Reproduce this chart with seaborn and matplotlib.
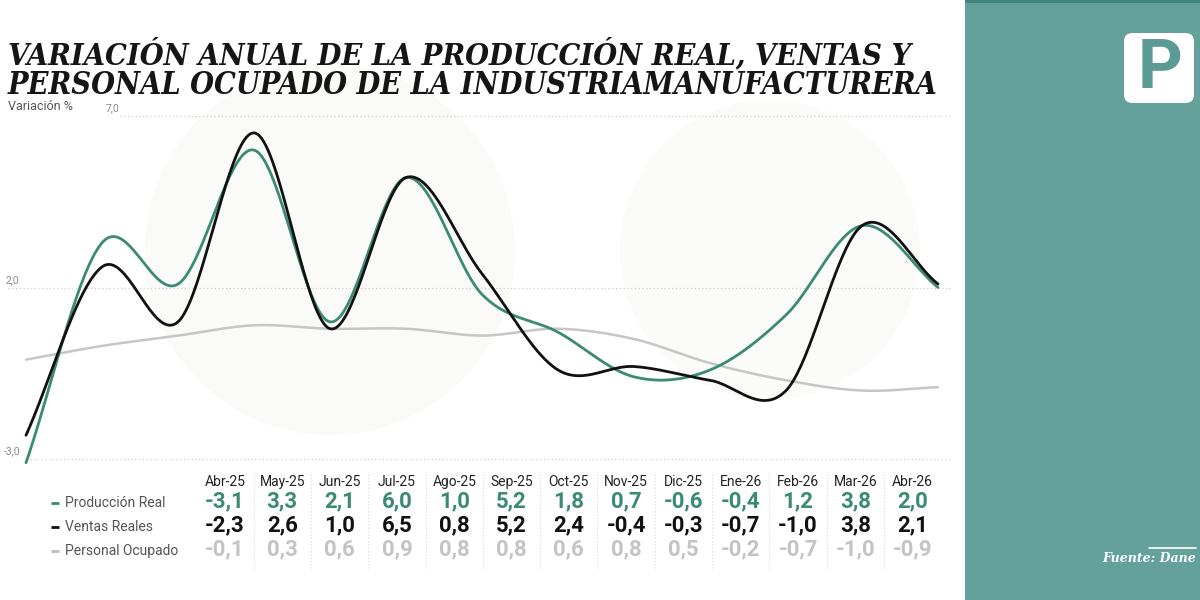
import numpy as np
import pandas as pd
import matplotlib
matplotlib.use("Agg")
import matplotlib.pyplot as plt
from matplotlib.patches import Rectangle, FancyBboxPatch, Circle
from matplotlib.lines import Line2D
import seaborn as sns

# ---------------- data ----------------
meses = ["Abr-25", "May-25", "Jun-25", "Jul-25", "Ago-25", "Sep-25", "Oct-25",
         "Nov-25", "Dic-25", "Ene-26", "Feb-26", "Mar-26", "Abr-26"]
produccion = [-3.1, 3.3, 2.1, 6.0, 1.0, 5.2, 1.8, 0.7, -0.6, -0.4, 1.2, 3.8, 2.0]
ventas = [-2.3, 2.6, 1.0, 6.5, 0.8, 5.2, 2.4, -0.4, -0.3, -0.7, -1.0, 3.8, 2.1]
personal = [-0.1, 0.3, 0.6, 0.9, 0.8, 0.8, 0.6, 0.8, 0.5, -0.2, -0.7, -1.0, -0.9]
series_names = ["Producción Real", "Ventas Reales", "Personal Ocupado"]
y_ticks = [7.0, 2.0, -3.0]

GREEN = "#3b8a73"
BLACK = "#111111"
GRAY = "#c6c6c6"
GRAY_TXT = "#c4c4c4"
TEAL = "#64a19b"

sns.set_theme(style="white")
plt.rcParams["font.family"] = ["Roboto", "DejaVu Sans"]

W, H = 1200, 600
fig = plt.figure(figsize=(12, 6), dpi=100)
fig.patch.set_facecolor("white")

def fx(px):
    return px / W

def fy(py):
    return 1 - py / H

# very faint decorative background shapes
bg = fig.add_axes([0, 0, 1, 1], zorder=-5)
bg.set_xlim(0, W); bg.set_ylim(H, 0); bg.axis("off")
bg.add_patch(Circle((330, 250), 185, color="#fafaf9", lw=0))
bg.add_patch(Circle((770, 250), 150, color="#fbfbfa", lw=0))

# ---------------- smooth (Catmull-Rom) curve ----------------
def catmull_rom(vals, n=40):
    p = np.asarray(vals, dtype=float)
    m = np.zeros_like(p)
    m[1:-1] = (p[2:] - p[:-2]) / 2.0
    m[0] = p[1] - p[0]
    m[-1] = p[-1] - p[-2]
    xs, ys = [], []
    for i in range(len(p) - 1):
        t = np.linspace(0, 1, n, endpoint=(i == len(p) - 2))
        h00 = 2 * t**3 - 3 * t**2 + 1
        h10 = t**3 - 2 * t**2 + t
        h01 = -2 * t**3 + 3 * t**2
        h11 = t**3 - t**2
        ys.append(h00 * p[i] + h10 * m[i] + h01 * p[i + 1] + h11 * m[i + 1])
        xs.append(i + t)
    return np.concatenate(xs), np.concatenate(ys)

frames = []
for name, vals in zip(series_names, [produccion, ventas, personal]):
    xs, ys = catmull_rom(vals)
    frames.append(pd.DataFrame({"x": xs, "y": ys, "serie": name}))
df = pd.concat(frames, ignore_index=True)

# ---------------- chart axes ----------------
x0_px, x1_px = 26, 938
ytop_px, ybot_px = 115.7, 459.3
ax = fig.add_axes([fx(x0_px), fy(ybot_px), fx(x1_px - x0_px), (ybot_px - ytop_px) / H])
ax.set_xlim(0, len(meses) - 1)
ax.set_ylim(-3, 7)
ax.axis("off")
ax.patch.set_alpha(0)

unit = (x1_px - x0_px) / (len(meses) - 1)
def dx(px):
    return (px - x0_px) / unit

grid_start = {7.0: 120, 2.0: 8, -3.0: 26}
label_px = {7.0: 106, 2.0: 6, -3.0: 4}
for yv in y_ticks:
    ax.hlines(yv, dx(grid_start[yv]), dx(952), colors="#cfcfcf", lw=0.9,
              linestyles=(0, (1, 2)), clip_on=False, zorder=1)
    ax.annotate(f"{yv:.1f}".replace(".", ","), xy=(dx(label_px[yv]), yv),
                xytext=(0, 2), textcoords="offset points", ha="left", va="bottom",
                fontsize=7.5, color="#8a8a8a", annotation_clip=False)

palette = {"Producción Real": GREEN, "Ventas Reales": BLACK, "Personal Ocupado": GRAY}
order = ["Personal Ocupado", "Producción Real", "Ventas Reales"]
for name in order:
    sns.lineplot(data=df[df["serie"] == name], x="x", y="y", color=palette[name],
                 lw=2.0 if name != "Personal Ocupado" else 1.8, ax=ax,
                 sort=False, estimator=None, legend=False, clip_on=False, zorder=3)
ax.axis("off")

# ---------------- title ----------------
title_lines = ["VARIACIÓN ANUAL DE LA PRODUCCIÓN REAL, VENTAS Y",
               "PERSONAL OCUPADO DE LA INDUSTRIAMANUFACTURERA"]
title_targets = [(8, 64, 904), (8, 94, 932)]
renderer = fig.canvas.get_renderer()
for txt, (xp, yp, wt) in zip(title_lines, title_targets):
    t = fig.text(fx(xp), fy(yp), txt, fontsize=27, fontweight="bold", style="italic",
                 family=["DejaVu Serif"], fontstretch="condensed", color="#151515",
                 ha="left", va="baseline")
    w = t.get_window_extent(renderer).width
    t.set_fontsize(min(27 * wt / w, 30))

fig.text(fx(8), fy(110), "Variación %", fontsize=9, color="#555555", ha="left", va="baseline")

# ---------------- table ----------------
col0, col_step = 225, 57.3
row_y = {"hdr": 482, "Producción Real": 501, "Ventas Reales": 525, "Personal Ocupado": 549}
val_color = {"Producción Real": GREEN, "Ventas Reales": BLACK, "Personal Ocupado": GRAY_TXT}
for i, mes in enumerate(meses):
    cx = col0 + col_step * i
    fig.text(fx(cx), fy(row_y["hdr"]), mes, fontsize=10, color="#222222",
             ha="center", va="center")
    for name, vals in zip(series_names, [produccion, ventas, personal]):
        fig.text(fx(cx), fy(row_y[name]), f"{vals[i]:.1f}".replace(".", ","),
                 fontsize=16, fontweight="bold", color=val_color[name],
                 ha="center", va="center")
    if i < len(meses) - 1:
        sx = cx + col_step / 2
        fig.add_artist(Line2D([fx(sx), fx(sx)], [fy(474), fy(568)], color="#d6d6d6",
                              lw=0.8, linestyle=(0, (1, 2)), transform=fig.transFigure))

for name in series_names:
    yy = row_y[name] + 2
    fig.add_artist(Line2D([fx(51), fx(59)], [fy(yy), fy(yy)], color=palette[name] if name != "Personal Ocupado" else "#bdbdbd",
                          lw=2, transform=fig.transFigure, solid_capstyle="butt"))
    fig.text(fx(65), fy(yy), name, fontsize=10, color="#555555", ha="left", va="center")

# ---------------- right panel ----------------
fig.add_artist(Rectangle((fx(965), 0), 1 - fx(965), 1, transform=fig.transFigure,
                         color=TEAL, lw=0, zorder=0))
fig.add_artist(Rectangle((fx(965), fy(3)), 1 - fx(965), 3 / H, transform=fig.transFigure,
                         color="#3f8678", lw=0, zorder=1))
fig.add_artist(FancyBboxPatch((fx(1124), fy(103)), fx(70), 70 / H,
                              boxstyle="round,pad=0,rounding_size=0.007",
                              transform=fig.transFigure, facecolor="white", lw=0, zorder=2,
                              mutation_aspect=2))
fig.text(fx(1160), fy(69), "P", fontsize=50, fontweight="bold", color="#5c9b94",
         ha="center", va="center", zorder=3)
fig.add_artist(Line2D([fx(1149), fx(1196)], [fy(548), fy(548)], color="white", lw=1.2,
                      transform=fig.transFigure, zorder=3))
fig.text(fx(1196), fy(558), "Fuente: Dane", fontsize=9, fontweight="bold", style="italic",
         family=["DejaVu Serif"], color="white", ha="right", va="center", zorder=3)

fig.savefig("out.png", dpi=100, facecolor="white")
